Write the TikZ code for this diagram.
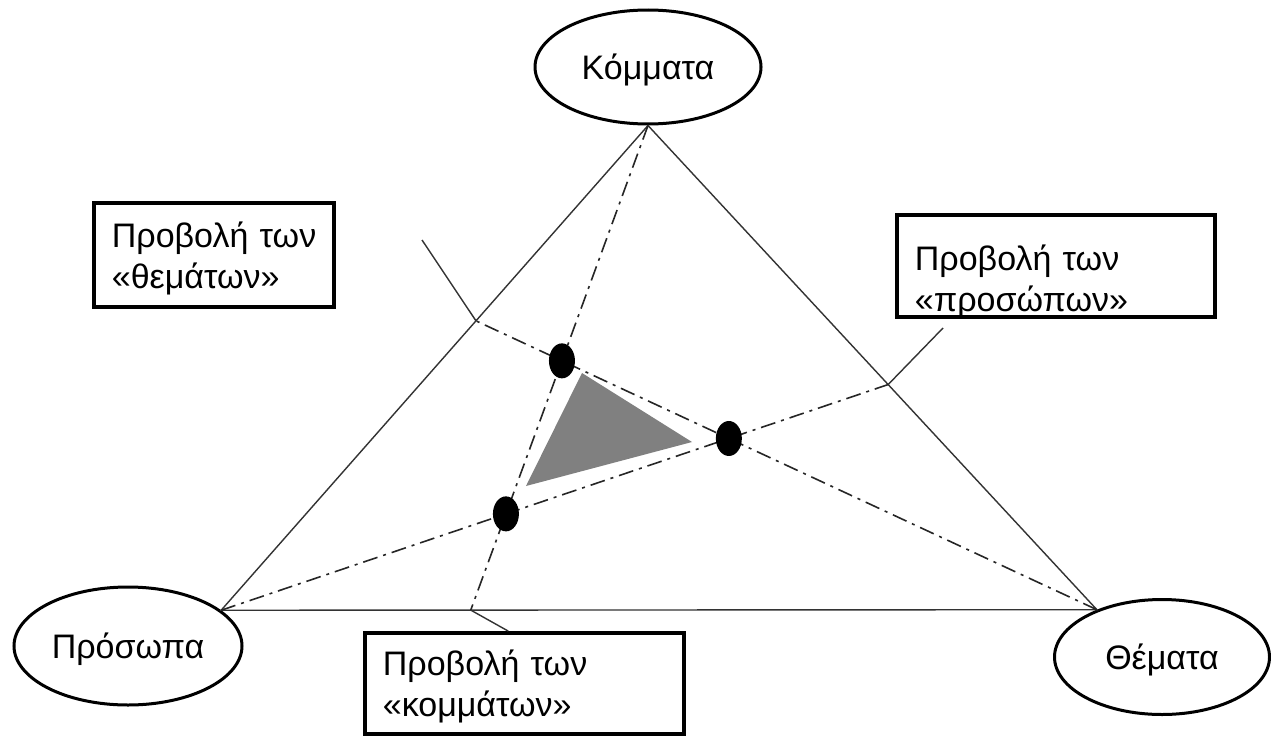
\documentclass[tikz,border=0pt]{standalone}
\usepackage{fontspec}
\setmainfont{Liberation Sans}
\usetikzlibrary{shapes.geometric,calc}
\begin{document}
\begin{tikzpicture}[x=1pt,y=-1pt,
  oval/.style={ellipse,draw=black,line width=3pt,inner sep=0pt,font=\fontsize{34}{40}\selectfont,text height=24pt,text depth=0pt},
  pbox/.style={draw=black,line width=3.8pt,inner ysep=0pt,inner xsep=18pt,align=left,font=\fontsize{34}{41}\selectfont,anchor=base west},
  side/.style={line width=1.4pt,draw=black!80},
  cevian/.style={line width=1.6pt,draw=black!85,dash pattern=on 15pt off 6pt on 3pt off 6pt},
  leader/.style={line width=1.4pt,draw=black!80},
  dotnode/.style={ellipse,fill=black,inner sep=0pt,minimum width=26pt,minimum height=35pt}]
\useasboundingbox (0,0) rectangle (1271,736);
\fill[white] (0,0) rectangle (1271,736);

% outer ellipses
\node[oval,minimum width=226pt,minimum height=114pt] (kom) at (648,67) {Κόμματα};
\node[oval,minimum width=228pt,minimum height=118pt] (pro) at (128,646) {Πρόσωπα};
\node[oval,minimum width=215pt,minimum height=115pt] (the) at (1162,657) {Θέματα};

% label boxes
\node[pbox,text width=204pt,text height=44pt,text depth=60pt] (bthe) at (92,247) {\mbox{Προβολή των}\\\mbox{«θεμάτων»}};
\node[pbox,text width=282pt,text height=55pt,text depth=47pt] (bpro) at (895,270) {\mbox{Προβολή των}\\\mbox{«προσώπων»}};
\node[pbox,text width=283pt,text height=42pt,text depth=59pt] (bkom) at (363,675) {\mbox{Προβολή των}\\\mbox{«κομμάτων»}};

% triangle vertices and points on the sides
\coordinate (A) at (kom.south);
\coordinate (L) at (pro.21);
\coordinate (R) at (the.144);
\coordinate (P1) at ($(L)!0.285!(R)$);
\coordinate (P2) at ($(L)!0.597!(A)$);
\coordinate (P3) at ($(A)!0.535!(R)$);
\coordinate (Q2) at (422,240);
\coordinate (Q3) at (943,328);

% triangle
\draw[side] (A) -- (L) -- (R) -- cycle;

% projection lines
\draw[cevian] (A) -- (P1);
\draw[cevian] (R) -- (P2);
\draw[cevian] (L) -- (P3);

% leaders
\draw[leader] (P2) -- (Q2);
\draw[leader] (P3) -- (Q3);
\draw[leader] (P1) -- ($(bkom.north west)!0.45!(bkom.north east)$);

% grey triangle
\fill[black!50] (582,373) -- (692,442) -- (526,486) -- cycle;

% dots
\node[dotnode] (d1) at (intersection of A--P1 and R--P2) {};
\node[dotnode] (d2) at (intersection of R--P2 and L--P3) {};
\node[dotnode] (d3) at (intersection of L--P3 and A--P1) {};
\end{tikzpicture}
\end{document}
